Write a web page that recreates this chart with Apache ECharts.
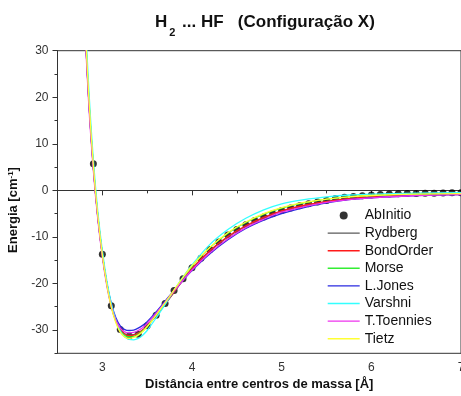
<!DOCTYPE html>
<html>
<head>
<meta charset="utf-8">
<script src="https://cdn.jsdelivr.net/npm/echarts@6/dist/echarts.min.js"></script>
<style>
html,body{margin:0;padding:0;background:#fff;}
#chart{width:461px;height:396px;}
</style>
</head>
<body>
<div id="chart"></div>
<script>
// ---- Data ----
const abInitioX = [2.9,3.0,3.1,3.2,3.3,3.4,3.5,3.6,3.7,3.8,3.9,4.0,4.1,4.2,4.3,4.4,4.5,4.6,4.7,4.8,4.9,5.0,5.1,5.2,5.3,5.4,5.5,5.6,5.7,5.8,5.9,6.0,6.1,6.2,6.3,6.4,6.5,6.6,6.7,6.8,6.9,7.0];
const abInitioY = [5.7,-13.7,-24.8,-29.9,-31.3,-30.9,-29.1,-26.8,-24.3,-21.5,-19.0,-16.6,-14.6,-12.7,-11.1,-9.6,-8.4,-7.4,-6.5,-5.7,-5.0,-4.3,-3.8,-3.3,-2.9,-2.5,-2.2,-1.75,-1.5,-1.3,-1.15,-1.0,-0.9,-0.8,-0.75,-0.7,-0.65,-0.6,-0.6,-0.55,-0.5,-0.5];

const curveX = [2.8,2.85,2.9,2.95,3.0,3.05,3.1,3.15,3.2,3.25,3.3,3.35,3.4,3.45,3.5,3.6,3.7,3.8,3.9,4.0,4.2,4.4,4.6,4.8,5.0,5.25,5.5,5.75,6.0,6.5,7.0];
const rydberg    = [38,19,4.8,-5.8,-13.8,-20.0,-24.6,-27.8,-29.8,-30.8,-31.1,-31.0,-30.6,-30.0,-29.1,-26.9,-24.5,-21.9,-19.3,-16.9,-13.0,-10.0,-7.7,-5.9,-4.5,-3.3,-2.4,-1.8,-1.4,-1.0,-0.8];
const bondOrder  = [38,19.1,4.9,-5.7,-13.8,-20.0,-24.7,-27.9,-29.9,-30.9,-31.2,-31.1,-30.7,-30.0,-29.1,-26.9,-24.4,-21.8,-19.2,-16.8,-12.9,-9.9,-7.6,-5.8,-4.4,-3.2,-2.4,-1.8,-1.4,-1.0,-0.8];
const morse      = [38.5,19.5,5.1,-5.6,-13.8,-20.1,-24.9,-28.1,-30.2,-31.2,-31.5,-31.4,-30.9,-30.2,-29.2,-26.8,-24.2,-21.5,-18.8,-16.3,-12.3,-9.2,-6.9,-5.1,-3.8,-2.7,-1.9,-1.4,-1.1,-0.8,-0.7];
const lJones     = [38,19,4.9,-5.7,-13.7,-19.9,-24.3,-27.3,-29.1,-29.9,-30.1,-30.0,-29.6,-29.0,-28.2,-26.1,-23.8,-21.5,-19.3,-17.2,-13.6,-10.6,-8.2,-6.4,-5.0,-3.7,-2.7,-2.0,-1.6,-1.1,-0.9];
const varshni    = [41,21.5,6.5,-4.6,-12.9,-19.4,-24.3,-27.8,-30.2,-31.5,-32.0,-32.1,-31.8,-31.1,-30.1,-27.4,-24.5,-21.5,-18.6,-16.0,-11.6,-8.4,-6.0,-4.2,-2.9,-2.0,-1.4,-1.0,-0.8,-0.6,-0.5];
const tToennies  = [37,18,4.2,-6.3,-14.3,-20.5,-25.0,-27.9,-29.6,-30.4,-30.6,-30.5,-30.1,-29.5,-28.6,-26.4,-24.0,-21.6,-19.3,-17.1,-13.4,-10.4,-8.0,-6.2,-4.7,-3.5,-2.6,-2.0,-1.6,-1.1,-0.9];
const tietz      = [39,19.8,5.3,-5.5,-13.8,-20.2,-25.1,-28.4,-30.5,-31.5,-31.8,-31.6,-31.1,-30.3,-29.3,-26.8,-24.1,-21.4,-18.7,-16.2,-12.2,-9.1,-6.8,-5.0,-3.7,-2.6,-1.9,-1.4,-1.1,-0.8,-0.7];

const xTickLabels = [3,4,5,6,7];
const yTickLabels = [-30,-20,-10,0,10,20,30];

const seriesNames = ['AbInitio','Rydberg','BondOrder','Morse','L.Jones','Varshni','T.Toennies','Tietz'];
const curveSets = [rydberg,bondOrder,morse,lJones,varshni,tToennies,tietz];
const curveColors = ['#5a5a5a','#ff1a1a','#33ee33','#2a2ae0','#33ffff','#ee33ee','#ffff33'];

const FONT = '"Liberation Sans", Arial, sans-serif';

const chart = echarts.init(document.getElementById('chart'), null, {renderer:'canvas'});

const series = [{
  name: 'AbInitio',
  type: 'scatter',
  data: abInitioX.map((x,i)=>[x, abInitioY[i]]),
  symbol: 'circle',
  symbolSize: 7,
  itemStyle: {color:'#000'},
  z: 1
}];
curveSets.forEach((arr, k) => {
  series.push({
    name: seriesNames[k+1],
    type: 'line',
    data: curveX.map((x,i)=>[x, arr[i]]),
    symbol: 'none',
    smooth: 0.35,
    clip: true,
    lineStyle: {color: curveColors[k], width: 1.3},
    itemStyle: {color: curveColors[k]},
    z: 2
  });
});

const legendData = seriesNames.map((n, i) => i === 0
  ? {name: n, icon: 'circle'}
  : {name: n, itemStyle: {opacity: 0}, lineStyle: {width: 1.4}});

const option = {
  animation: false,
  backgroundColor: '#fff',
  title: {
    text: '{a|H}{s|2}{a| ... HF   (Configuração X)}',
    left: 150,
    top: 9,
    textStyle: {
      fontFamily: FONT,
      rich: {
        a: {fontSize: 17, fontWeight: 'bold', color: '#111', fontFamily: FONT, verticalAlign: 'bottom'},
        s: {fontSize: 11, fontWeight: 'bold', color: '#111', fontFamily: FONT, verticalAlign: 'bottom', padding: [0,2,-7,2]}
      }
    }
  },
  grid: {left: 57.5, right: 0, top: 50.7, bottom: 42.7, outerBoundsMode: 'none', containLabel: false,
    show: true, borderColor: '#333', borderWidth: 1, backgroundColor: 'transparent'},
  legend: {
    orient: 'vertical',
    left: 322,
    top: 203.5,
    itemWidth: 32,
    itemHeight: 8,
    itemGap: 3.6,
    selectedMode: false,
    data: legendData,
    lineStyle: {width: 1.4},
    textStyle: {fontSize: 14, color: '#111', fontFamily: FONT}
  },
  xAxis: [{
    type: 'value', min: 2.5, max: 7, interval: 0.5, position: 'bottom',
    axisLine: {show: true, lineStyle: {color: '#333', width: 1}},
    axisTick: {show: true, length: 5, customValues: xTickLabels, lineStyle: {color: '#333'}},
    axisLabel: {customValues: xTickLabels, margin: 8, fontSize: 12, color: '#333', fontFamily: FONT,
      formatter: v => Number.isInteger(v) ? String(v) : ''},
    splitLine: {show: false},
    name: 'Distância entre centros de massa [Å]',
    nameLocation: 'middle', nameGap: 24,
    nameTextStyle: {fontSize: 13, fontWeight: 'bold', color: '#111', fontFamily: FONT}
  }, {
    type: 'value', min: 2.5, max: 7, interval: 0.5, position: 'bottom', gridIndex: 0,
    axisLine: {show: false},
    axisTick: {show: true, length: 3, lineStyle: {color: '#333'}},
    axisLabel: {show: false},
    splitLine: {show: false}
  }],
  yAxis: [{
    type: 'value', min: -35, max: 30, interval: 5, position: 'left',
    axisLine: {show: true, lineStyle: {color: '#333', width: 1}},
    axisTick: {show: true, length: 5, customValues: yTickLabels, lineStyle: {color: '#333'}},
    axisLabel: {customValues: yTickLabels, margin: 9, fontSize: 12, color: '#333', fontFamily: FONT,
      formatter: v => (v % 10 === 0) ? String(v) : ''},
    splitLine: {show: false},
    name: '{a|Energia [cm}{s|-1}{a|]}',
    nameLocation: 'middle', nameGap: 36, nameRotate: 90,
    nameTextStyle: {
      fontFamily: FONT,
      padding: [0, 16, 0, 0],
      rich: {
        a: {fontSize: 13, fontWeight: 'bold', color: '#111', fontFamily: FONT, verticalAlign: 'top'},
        s: {fontSize: 8, fontWeight: 'bold', color: '#111', fontFamily: FONT, verticalAlign: 'top'}
      }
    }
  }, {
    type: 'value', min: -35, max: 30, interval: 5, position: 'left', gridIndex: 0,
    axisLine: {show: false},
    axisTick: {show: true, length: 3, lineStyle: {color: '#333'}},
    axisLabel: {show: false},
    splitLine: {show: false}
  }],
  series: series
};
chart.setOption(option);
</script>
</body>
</html>
